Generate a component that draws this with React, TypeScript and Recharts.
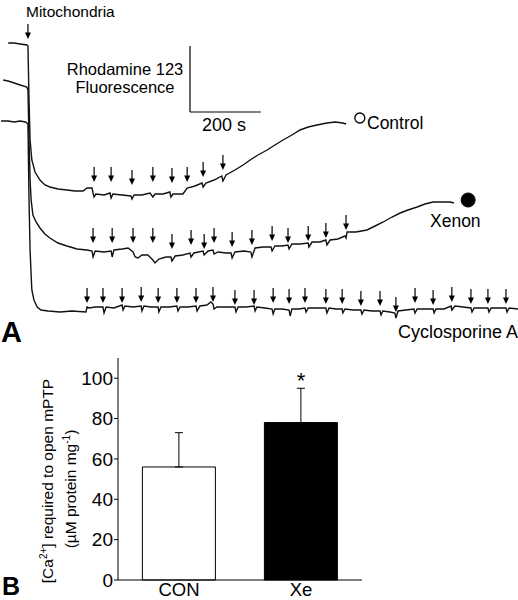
import React from "react"
import {
  ComposedChart,
  Line,
  Scatter,
  XAxis,
  YAxis,
  ReferenceLine,
  ReferenceDot,
  BarChart,
  Bar,
  Cell,
  ErrorBar,
} from "recharts"

const FONT = '"Liberation Sans", Arial, Helvetica, sans-serif'

// Panel A: rhodamine 123 fluorescence traces, [time (s), fluorescence (a.u.)]
const controlTrace: [number, number][] = [
  [-57, 302], [-40, 302], [-23, 301], [-4, 300], [-1, 299], [2, 245], [5, 205], [10, 185],
  [19, 173], [33, 165], [47, 160], [61, 158], [84, 156], [109, 155], [132, 154], [155, 154],
  [166, 157], [180, 157], [183, 152], [186, 148], [191, 151], [214, 150], [231, 152], [234, 147],
  [239, 151], [265, 150], [290, 149], [293, 146], [299, 150], [321, 150], [344, 152], [352, 148],
  [358, 151], [381, 151], [400, 153], [403, 148], [409, 151], [429, 151], [437, 151], [449, 157],
  [471, 159], [491, 162], [494, 158], [502, 162], [525, 165], [547, 169], [550, 164], [559, 170],
  [584, 175], [607, 180], [627, 185], [649, 190], [675, 195], [697, 200], [720, 205], [745, 210],
  [768, 215], [791, 218], [816, 220], [844, 222], [867, 223], [889, 222], [898, 221],
]

const xenonTrace: [number, number][] = [
  [-71, 265], [-57, 264], [-40, 262], [-23, 260], [-4, 258], [-1, 255], [2, 205], [5, 165], [8, 145],
  [13, 130], [22, 123], [33, 117], [47, 111], [61, 107], [84, 102], [109, 99], [138, 96],
  [166, 95], [180, 94], [183, 88], [189, 94], [214, 93], [234, 94], [237, 88], [242, 95],
  [265, 96], [282, 97], [296, 93], [302, 88], [310, 87], [321, 90], [338, 90], [352, 85],
  [358, 82], [369, 86], [389, 88], [403, 88], [406, 84], [415, 89], [437, 90], [457, 92],
  [460, 88], [468, 92], [494, 94], [497, 90], [508, 94], [522, 95], [525, 91], [536, 93],
  [559, 92], [573, 92], [576, 87], [584, 93], [610, 94], [629, 93], [632, 88], [641, 97],
  [663, 98], [686, 98], [689, 94], [697, 99], [717, 99], [734, 100], [737, 96], [745, 101],
  [768, 101], [791, 102], [793, 98], [802, 103], [824, 103], [841, 105], [844, 100], [853, 105],
  [875, 106], [895, 109], [898, 107], [901, 113], [926, 113], [957, 115], [980, 119], [1003, 123],
  [1028, 128], [1051, 132], [1073, 135], [1099, 138], [1121, 141], [1144, 143], [1169, 143],
  [1192, 143], [1203, 142],
]

const csaTrace: [number, number][] = [
  [-77, 224], [-57, 224], [-40, 223], [-23, 224], [-8, 223], [-1, 221], [2, 145], [5, 95],
  [8, 70], [10, 55], [16, 45], [25, 38], [36, 35], [56, 34], [90, 33], [123, 34], [163, 33],
  [166, 38], [172, 37], [189, 38], [211, 38], [214, 32], [220, 38], [242, 37], [265, 40],
  [268, 35], [273, 39], [296, 38], [319, 39], [321, 34], [327, 39], [347, 38], [367, 38],
  [369, 33], [375, 38], [398, 38], [420, 39], [423, 34], [429, 38], [451, 38], [474, 39],
  [477, 34], [485, 39], [505, 40], [516, 43], [522, 41], [525, 36], [533, 38], [559, 38],
  [584, 38], [587, 33], [593, 38], [615, 38], [638, 39], [641, 34], [646, 38], [669, 37],
  [689, 36], [692, 31], [697, 36], [717, 36], [737, 35], [740, 29], [745, 36], [765, 36],
  [782, 37], [785, 33], [791, 37], [816, 37], [841, 37], [844, 32], [850, 37], [870, 36],
  [887, 36], [889, 32], [895, 36], [918, 35], [940, 35], [943, 31], [949, 35], [971, 34],
  [994, 34], [997, 30], [1002, 34], [1022, 33], [1036, 32], [1039, 27], [1045, 34], [1067, 35],
  [1090, 36], [1093, 32], [1099, 36], [1121, 36], [1144, 36], [1147, 32], [1152, 36], [1175, 36],
  [1195, 39], [1197, 35], [1206, 39], [1229, 38], [1251, 37], [1254, 33], [1260, 37], [1279, 37],
  [1299, 37], [1302, 33], [1308, 37], [1330, 37], [1350, 37], [1353, 33], [1359, 37], [1384, 36],
]

// Ca2+ additions (arrow times and the level of each arrow tip)
const mitoT = [-1]
const mitoF = [306]
const controlArrowT = [186, 234, 293, 352, 406, 449, 494, 550]
const controlArrowF = [163, 163, 160, 163, 162, 163, 168, 175]
const xenonArrowT = [183, 237, 296, 352, 406, 460, 497, 525, 576, 632, 689, 734, 791, 841, 898]
const xenonArrowF = [102, 102, 102, 102, 96, 100, 96, 102, 98, 100, 104, 102, 104, 107, 115]
const csaArrowT = [
  166, 211, 265, 319, 367, 420, 474, 522, 584, 638, 692, 737, 782, 841, 887, 940, 994, 1039,
  1093, 1144, 1197, 1251, 1299, 1350,
]
const csaArrowF = [
  42, 42, 42, 43, 42, 42, 42, 43, 40, 40, 42, 41, 42, 41, 41, 39, 39, 33, 42, 40, 43, 41, 41, 41,
]

// Panel B
const groups = ["CON", "Xe"]
const means = [56, 78]
const sems = [17, 17]
const groupFills = ["#ffffff", "#000000"]
const yTicksB = [0, 20, 40, 60, 80, 100]

const toPoints = (rows: [number, number][]) => rows.map(([t, f]) => ({ t, f }))
const arrows = (ts: number[], fs: number[]) => ts.map((t, i) => ({ t, f: fs[i] }))

function DownArrow(props: any) {
  const { cx, cy } = props
  if (cx == null || cy == null) return null
  return (
    <g>
      <line x1={cx} y1={cy - 15} x2={cx} y2={cy - 5} stroke="#000" strokeWidth={1.2} />
      <path d={`M${cx - 3},${cy - 6.5}L${cx + 3},${cy - 6.5}L${cx},${cy}Z`} fill="#000" />
    </g>
  )
}

function TracesPanel() {
  const lineProps = {
    type: "linear" as const,
    dataKey: "f",
    stroke: "#111",
    strokeWidth: 1.4,
    dot: false,
    activeDot: false,
    isAnimationActive: false,
  }
  return (
    <ComposedChart width={518} height={345} margin={{ top: 0, right: 0, bottom: 0, left: 0 }}>
      <XAxis type="number" dataKey="t" domain={[-80, 1384]} hide allowDataOverflow />
      <YAxis type="number" dataKey="f" domain={[0, 345]} hide allowDataOverflow />
      <ReferenceLine segment={[{ x: 457, y: 233 }, { x: 457, y: 299 }]} stroke="#000" strokeWidth={1.2} />
      <ReferenceLine segment={[{ x: 457, y: 233 }, { x: 657, y: 233 }]} stroke="#000" strokeWidth={1.2} />
      <Line {...lineProps} data={toPoints(controlTrace)} />
      <Line {...lineProps} data={toPoints(xenonTrace)} />
      <Line {...lineProps} data={toPoints(csaTrace)} />
      <Scatter data={arrows(mitoT, mitoF)} dataKey="f" shape={DownArrow} isAnimationActive={false} />
      <Scatter data={arrows(controlArrowT, controlArrowF)} dataKey="f" shape={DownArrow} isAnimationActive={false} />
      <Scatter data={arrows(xenonArrowT, xenonArrowF)} dataKey="f" shape={DownArrow} isAnimationActive={false} />
      <Scatter data={arrows(csaArrowT, csaArrowF)} dataKey="f" shape={DownArrow} isAnimationActive={false} />
      <ReferenceDot x={937} y={227} r={5} fill="#fff" stroke="#000" strokeWidth={1.3} />
      <ReferenceDot x={1243} y={145} r={7} fill="#000" stroke="#000" />
    </ComposedChart>
  )
}

function BarPanel() {
  const data = groups.map((g, i) => ({ group: g, mean: means[i], err: [0, sems[i]] }))
  return (
    <BarChart width={380} height={255} data={data} barCategoryGap="20%"
      margin={{ top: 13, right: 18, bottom: 0, left: 0 }}>
      <XAxis dataKey="group" tickLine={false} tickSize={3} tickMargin={0} height={20}
        axisLine={{ stroke: "#000" }} tick={{ fontSize: 18.5, fill: "#000", fontFamily: FONT }} />
      <YAxis width={118} domain={[0, 110]} ticks={yTicksB} tickSize={4} tickMargin={1}
        axisLine={{ stroke: "#000" }} tickLine={{ stroke: "#000" }}
        tick={{ fontSize: 19, fill: "#000", fontFamily: FONT }} />
      <Bar dataKey="mean" stroke="#000" strokeWidth={1} isAnimationActive={false}>
        {data.map((d, i) => <Cell key={d.group} fill={groupFills[i]} />)}
        <ErrorBar dataKey="err" direction="y" width={4} stroke="#000" strokeWidth={1} isAnimationActive={false} />
      </Bar>
      <ReferenceDot x="Xe" y={99} r={0}
        label={{ value: "*", position: "center", fontSize: 22, fill: "#000", fontFamily: FONT }} />
    </BarChart>
  )
}

export default function App() {
  const txt = { fontFamily: FONT, fill: "#000" }
  return (
    <div style={{ position: "absolute", left: 0, top: 0, width: 518, height: 600, background: "#fff", overflow: "hidden" }}>
      <div style={{ position: "absolute", left: 0, top: 0 }}>
        <TracesPanel />
      </div>
      <div style={{ position: "absolute", left: 0, top: 345 }}>
        <BarPanel />
      </div>
      <svg width={518} height={600} style={{ position: "absolute", left: 0, top: 0, pointerEvents: "none" }}>
        <g {...txt}>
          <text x={26} y={17} fontSize={15.5}>Mitochondria</text>
          <text x={125} y={75} fontSize={16.5} textAnchor="middle">Rhodamine 123</text>
          <text x={125} y={93} fontSize={16.5} textAnchor="middle">Fluorescence</text>
          <text x={224} y={131} fontSize={18} textAnchor="middle">200 s</text>
          <text x={367} y={129} fontSize={17.5}>Control</text>
          <text x={430} y={227} fontSize={17.5}>Xenon</text>
          <text x={518} y={338} fontSize={18} textAnchor="end">Cyclosporine A</text>
          <text x={1} y={342} fontSize={29} fontWeight="bold">A</text>
          <text x={2} y={595} fontSize={25} fontWeight="bold">B</text>
          <text transform="translate(53,481) rotate(-90)" fontSize={15.5} textAnchor="middle">
            [Ca<tspan fontSize={10} dy={-6}>2+</tspan><tspan dy={6}>] required to open mPTP</tspan>
          </text>
          <text transform="translate(76,489) rotate(-90)" fontSize={15.5} textAnchor="middle">
            (µM protein mg<tspan fontSize={10} dy={-6}>-1</tspan><tspan dy={6}>)</tspan>
          </text>
        </g>
      </svg>
    </div>
  )
}
